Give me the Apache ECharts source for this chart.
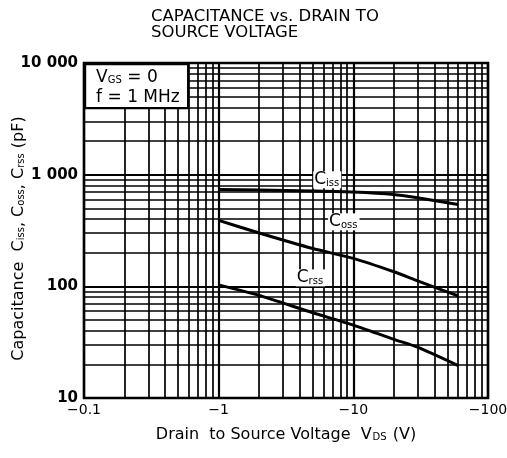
<!DOCTYPE html>
<html>
<head>
<meta charset="utf-8">
<script src="https://cdn.jsdelivr.net/npm/echarts@6/dist/echarts.min.js"></script>
<style>
html, body { margin: 0; padding: 0; background: #fff; }
#chart { width: 507px; height: 458px; }
</style>
</head>
<body>
<div id="chart"></div>
<script>
// drain-source voltage (magnitude, V) and capacitances (pF)
const vds = [1, 2, 5, 10, 20, 30, 60]
const ciss = [735, 730, 715, 700, 665, 620, 540]
const coss = [390, 300, 218, 178, 135, 112, 82]
const crss = [103, 83, 58, 45, 33.5, 28.5, 19.5]

const xTicks = [0.1, 1, 10, 100]
const xTickLabels = ['−0.1', '−1', '−10', '−100']
const yTicks = [10, 100, 1000, 10000]
const yTickLabels = ['10', '100', '1 000', '10 000']
const minorSteps = [2, 3, 4, 5, 6, 7, 8, 9]

const font = '"DejaVu Sans", Verdana, sans-serif'

// minor log grid lines (2..9 of each decade)
const minorOf = ticks => {
  const out = []
  ticks.slice(0, -1).forEach(d => minorSteps.forEach(m => out.push(+(d * m).toPrecision(3))))
  return out
}

const pairs = ys => vds.map((v, i) => [v, ys[i]])

const curveLabel = (name, coord) => ({
  symbol: 'circle',
  symbolSize: 1,
  silent: true,
  itemStyle: { color: 'rgba(0,0,0,0)' },
  data: [{
    coord: coord,
    label: {
      show: true,
      position: 'inside',
      formatter: '{c|C}{s|' + name + '}',
      backgroundColor: '#fff',
      padding: [0, 2, 0, 1],
      rich: {
        c: { fontFamily: font, fontSize: 17, color: '#000' },
        s: { fontFamily: font, fontSize: 10, color: '#000', padding: [7, 0, 0, 0] }
      }
    }
  }]
})

const curve = (name, ys, labelCoord) => ({
  name: name,
  type: 'line',
  data: pairs(ys),
  smooth: 0.2,
  symbol: 'none',
  z: 5,
  lineStyle: { color: '#000', width: 3 },
  markPoint: curveLabel(name, labelCoord)
})

const option = {
  backgroundColor: '#fff',
  animation: false,
  title: {
    text: 'CAPACITANCE vs. DRAIN TO\nSOURCE VOLTAGE',
    left: 146,
    top: 4,
    textStyle: { fontFamily: font, fontSize: 16.5, fontWeight: 'normal', color: '#000', lineHeight: 16 }
  },
  grid: {
    left: 84, right: 19, top: 63, bottom: 60,
    containLabel: false,
    outerBoundsMode: 'none',
    show: true, borderColor: '#000', borderWidth: 2.5, backgroundColor: '#fff'
  },
  xAxis: {
    type: 'log', logBase: 10, min: 0.1, max: 100,
    name: '{t|Drain  to Source Voltage  V}{s|DS}{t| (V)}',
    nameLocation: 'middle', nameGap: 29,
    nameMoveOverlap: false,
    nameTextStyle: {
      rich: {
        t: { fontFamily: font, fontSize: 16, color: '#000' },
        s: { fontFamily: font, fontSize: 10, color: '#000', padding: [5, 1, 0, 1] }
      }
    },
    axisLine: { show: false },
    axisTick: { show: false },
    splitLine: { show: true, lineStyle: { color: '#000', width: 2.2 } },
    axisLabel: {
      margin: 5,
      fontFamily: font, fontSize: 14, color: '#000',
      formatter: v => {
        const i = xTicks.findIndex(t => Math.abs(t - v) / t < 1e-6)
        return i >= 0 ? xTickLabels[i] : ''
      }
    }
  },
  yAxis: {
    type: 'log', logBase: 10, min: 10, max: 10000,
    name: '{t|Capacitance  C}{s|iss}{t|, C}{s|oss}{t|, C}{s|rss}{t| (pF)}',
    nameLocation: 'middle', nameRotate: 90, nameGap: 57,
    nameMoveOverlap: false,
    nameTextStyle: {
      padding: [0, 16, 0, 0],
      rich: {
        t: { fontFamily: font, fontSize: 16, color: '#000' },
        s: { fontFamily: font, fontSize: 10, color: '#000', padding: [5, 0, 0, 0] }
      }
    },
    axisLine: { show: false },
    axisTick: { show: false },
    splitLine: { show: true, lineStyle: { color: '#000', width: 2.2 } },
    axisLabel: {
      margin: 6,
      fontFamily: font, fontSize: 15, fontWeight: 'bold', color: '#000',
      formatter: v => {
        const i = yTicks.findIndex(t => Math.abs(t - v) / t < 1e-6)
        return i >= 0 ? yTickLabels[i] : ''
      }
    }
  },
  graphic: [{
    type: 'group',
    left: 84, top: 63,
    children: [{
      type: 'rect',
      z: 100,
      shape: { x: 0, y: 0, width: 103, height: 44 },
      style: { fill: '#fff', stroke: '#000', lineWidth: 2.2 }
    }, {
      type: 'text',
      z: 101,
      x: 11, y: 3,
      style: {
        text: '{t|V}{s|GS}{t| = 0}\n{t|f = 1 MHz}',
        rich: {
          t: { fontFamily: font, fontSize: 17, color: '#000', lineHeight: 20 },
          s: { fontFamily: font, fontSize: 10, color: '#000', lineHeight: 20, padding: [6, 0, 0, 0] }
        }
      }
    }]
  }],
  series: [
    {
      name: 'grid',
      type: 'line',
      data: [],
      silent: true,
      z: 1,
      markLine: {
        silent: true,
        symbol: 'none',
        label: { show: false },
        lineStyle: { color: '#000', width: 1.7, type: 'solid' },
        data: minorOf(xTicks).map(v => ({ xAxis: v }))
          .concat(minorOf(yTicks).map(v => ({ yAxis: v })))
      }
    },
    curve('iss', ciss, [6.4, 900]),
    curve('oss', coss, [8.5, 378]),
    curve('rss', crss, [4.8, 119])
  ]
}

const chart = echarts.init(document.getElementById('chart'))
chart.setOption(option)
</script>
</body>
</html>
